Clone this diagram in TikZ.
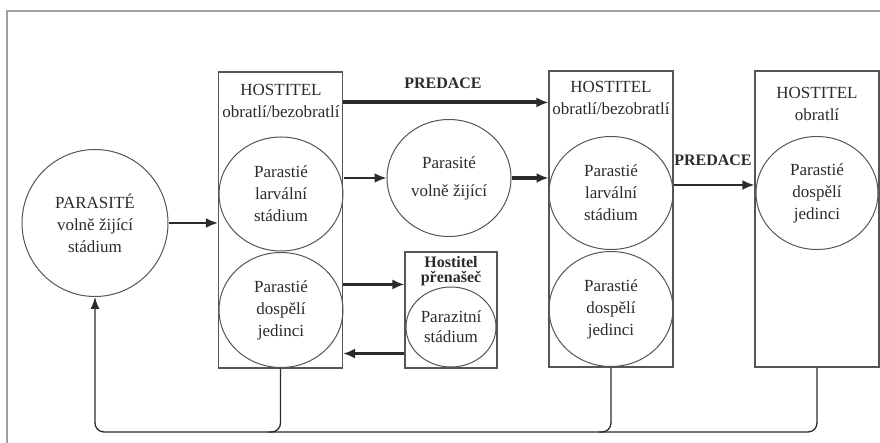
\documentclass[tikz,border=0pt]{standalone}
\usepackage{fontspec}
\setmainfont{Liberation Serif}
\usetikzlibrary{arrows.meta,shapes.geometric}
\definecolor{ink}{HTML}{2B2B2B}
\definecolor{edge}{HTML}{555555}
\definecolor{framegray}{HTML}{A0A0A0}
\begin{document}
\begin{tikzpicture}[x=1pt,y=-1pt,
        host/.style={draw=edge,line width=1.1pt,minimum width=124pt,minimum height=296pt,inner sep=0pt},
        stage/.style={draw=edge,line width=1pt,ellipse,minimum width=124pt,minimum height=114pt,inner sep=0pt,
            text=ink,align=center,font=\fontsize{17}{22}\selectfont},
        txt/.style={text=ink,align=center,font=\fontsize{17}{22}\selectfont},
        predace/.style={text=ink,font=\fontsize{16}{19}\selectfont\bfseries},
        arr/.style={draw=ink,line width=2.6pt,-{Latex[length=12pt,width=10pt]}},
        fb/.style={draw=ink,line width=1.3pt,rounded corners=9pt}]
                \useasboundingbox (0,0) rectangle (880,443);
                \draw[framegray,line width=1.5pt] (7,443) -- (7,11) -- (880,11);
                \node[stage,minimum width=146pt,minimum height=147pt] (PAR) at (95,223) {PARASITÉ\\volně žijící\\stádium};
                \node[host] (H1) at (280.5,220) {};
                \node[txt] (h1) at (281,101) {HOSTITEL\\obratlí/bezobratlí};
                \node[stage] (L1) at (281,194) {Parastié\\larvální\\stádium};
                \node[stage,minimum height=115pt] (D1) at (281,310) {Parastié\\dospělí\\jedinci};
                \node[stage,minimum height=117pt] (PV) at (449,178) {Parasité\\[6pt]volně žijící};
                \node[draw=edge,line width=1.1pt,minimum width=92pt,minimum height=116pt,inner sep=0pt] (HP) at (451,310) {};
                \node[text=ink,align=center,font=\fontsize{16}{15}\selectfont\bfseries] (hp) at (451,271) {Hostitel\\přenašeč};
                \node[stage,minimum width=90pt,minimum height=80pt,font=\fontsize{17}{20}\selectfont] (PZ) at (451,327) {Parazitní\\stádium};
                \node[host] (H2) at (611,219) {};
                \node[txt] (h2) at (611,98) {HOSTITEL\\obratlí/bezobratlí};
                \node[stage,minimum height=113pt] (L2) at (611,193) {Parastié\\larvální\\stádium};
                \node[stage,minimum height=115pt] (D2) at (611,309) {Parastié\\dospělí\\jedinci};
                \node[host] (H3) at (817,219) {};
                \node[txt] (h3) at (817,104) {HOSTITEL\\obratlí};
                \node[stage,minimum width=122pt,minimum height=113pt] (L3) at (817,193) {Parastié\\dospělí\\jedinci};
                \node[predace] (pr1) at (443,83) {PREDACE};
                \node[predace] (pr2) at (713,160) {PREDACE};
                \coordinate (base) at (95,432);
                \draw[arr] (PAR.east) -- (PAR.east -| H1.west);
                \draw[arr,line width=4pt] ([yshift=-31pt]H1.north east) -- ([yshift=-31pt]H1.north east -| H2.west);
                \draw[arr] (PV.west -| L1.east) -- (PV.west);
                \draw[arr,line width=3.6pt] (PV.east) -- (PV.east -| L2.west);
                \draw[arr] ([yshift=8pt]L2.east) -- ([yshift=8pt]L2.east -| H3.west);
                \draw[arr] ([yshift=-33pt]HP.north west -| H1.east) -- ([yshift=-33pt]HP.north west);
                \draw[arr] ([yshift=15pt]HP.south west) -- ([yshift=15pt]HP.south west -| H1.east);
                \draw[fb,-{Latex[length=12pt,width=9pt]}] (H3.south) |- (base) -- (PAR.south);
                \draw[fb] (H1.south) |- ([xshift=-12pt]H1.south |- base);
                \draw[fb] (H2.south) |- ([xshift=-12pt]H2.south |- base);
\end{tikzpicture}
\end{document}
